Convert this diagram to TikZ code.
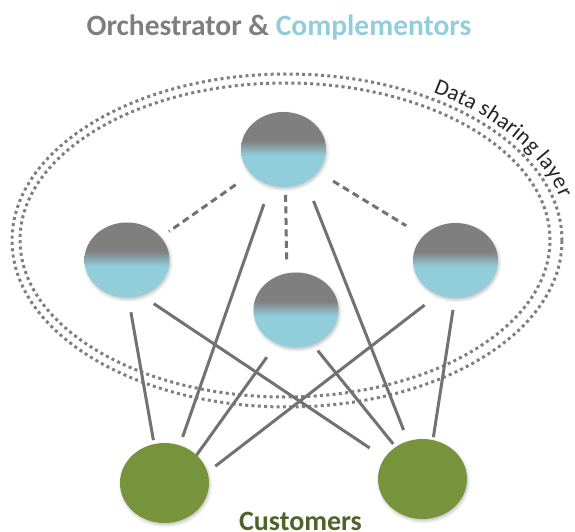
\documentclass[tikz,border=0pt]{standalone}
\usepackage{fontspec}
\setmainfont{Carlito}
\usepackage{xcolor}
\usepackage{tikz}
\usetikzlibrary{shapes.geometric,shadows.blur,decorations.text}

\definecolor{nodegray}{HTML}{7F7F7F}
\definecolor{nodeblue}{HTML}{92CDDC}
\definecolor{custgreen}{HTML}{77933C}
\definecolor{custtext}{HTML}{4F6228}
\definecolor{linegray}{HTML}{727272}
\definecolor{dotgray}{HTML}{7F7F7F}

\pgfdeclareverticalshading{grayblue}{100bp}{color(0bp)=(nodeblue); color(46bp)=(nodeblue); color(56bp)=(nodegray); color(100bp)=(nodegray)}

\tikzset{
  partner/.style={shape=ellipse, minimum width=85pt, minimum height=75pt, inner sep=0pt, outer sep=0pt,
    shading=grayblue, blur shadow={shadow xshift=1pt, shadow yshift=-2pt, shadow blur radius=3pt, shadow opacity=25}},
  customer/.style={shape=ellipse, minimum width=89pt, minimum height=80pt, inner sep=0pt, outer sep=0pt,
    fill=custgreen, blur shadow={shadow xshift=1pt, shadow yshift=-2pt, shadow blur radius=3pt, shadow opacity=25}},
  link/.style={draw=linegray, line width=3pt},
  dashlink/.style={link, dash pattern=on 7pt off 4.5pt},
  layer/.style={draw=dotgray, line width=3pt, dash pattern=on 3pt off 3.3pt}
}

\begin{document}
\begin{tikzpicture}[x=1pt,y=1pt]
    \useasboundingbox (0,0) rectangle (575,531);

    % data sharing layer
    \draw[layer] (287,290.5) ellipse [x radius=275, y radius=166.5];
    \draw[layer] (285,291) ellipse [x radius=265, y radius=157];
    \path[decorate, decoration={text along path, raise=6.5pt,
        text={|\fontsize{22.5}{27}\selectfont\color{black!85}|Data sharing layer}}]
        (287,290.5) ++(58.5:275 and 166.5) arc [start angle=58.5, end angle=0, x radius=275, y radius=166.5];

    % orchestrator and complementors
    \node[partner] (T) at (283.5,381.5){};
    \node[partner] (L) at (127,271){};
    \node[partner] (M) at (296,221){};
    \node[partner] (R) at (455.5,270.5){};

    % customers
    \node[customer] (GL) at (164.5,48){};
    \node[customer] (GR) at (422.5,52){};

    \path [dashlink](T.217) edge[shorten <=19pt, shorten >=10pt] (L.34);
    \path [dashlink](T.-87) edge[shorten <=8pt, shorten >=13pt] (M.104);
    \path [dashlink](T.-33) edge[shorten <=18pt, shorten >=20pt] (R.143);

    \path [link](T.250) edge[shorten <=20pt, shorten >=9pt] (GL.68);
    \path [link](T.-55) edge[shorten <=21pt, shorten >=12pt] (GR.111);
    \path [link](L.-88) edge[shorten <=15pt, shorten >=4pt] (GL.105);
    \path [link](L.-68) edge[shorten <=15pt, shorten >=18pt] (GR.151);
    \path [link](M.240) edge[shorten <=17pt, shorten >=0pt] (GL.41);
    \path [link](M.-64) edge[shorten <=8pt, shorten >=4pt] (GR.130);
    \path [link](R.243) edge[shorten <=17pt, shorten >=10pt] (GL.14);
    \path [link](R.-91) edge[shorten <=12pt, shorten >=3pt] (GR.75);

    % labels
    \node[anchor=base, font=\fontsize{29.5}{34}\selectfont\bfseries] (title) at (279,495)
        {\textcolor{nodegray}{Orchestrator \&} \textcolor{nodeblue}{Complementors}};
    \node[anchor=base, font=\fontsize{28}{33}\selectfont\bfseries, text=custtext] (cust) at (300.5,1) {Customers};
\end{tikzpicture}
\end{document}
